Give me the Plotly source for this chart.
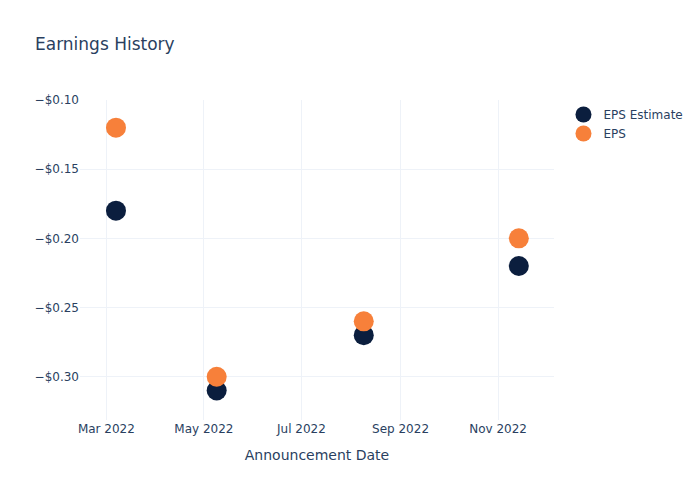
import plotly.graph_objects as go

dates = ["2022-03-07", "2022-05-09", "2022-08-09", "2022-11-14"]
eps_estimate = [-0.18, -0.31, -0.27, -0.22]
eps_actual = [-0.12, -0.30, -0.26, -0.20]

fig = go.Figure()
fig.add_trace(go.Scatter(x=dates, y=eps_estimate, mode="markers", name="EPS Estimate",
                         marker=dict(color="#0b1e3e", size=20)))
fig.add_trace(go.Scatter(x=dates, y=eps_actual, mode="markers", name="EPS",
                         marker=dict(color="#f7803a", size=20)))
fig.update_layout(
    template="plotly_white",
    width=700, height=500,
    font=dict(family="DejaVu Sans"),
    title=dict(text="Earnings History"),
    xaxis=dict(title="Announcement Date", range=["2022-02-12 12:00", "2022-12-06"],
               gridcolor="#EEF2F8"),
    yaxis=dict(tickformat="$.2f", range=[-0.3313, -0.1], gridcolor="#EEF2F8"),
)
fig.write_html("out.html")
